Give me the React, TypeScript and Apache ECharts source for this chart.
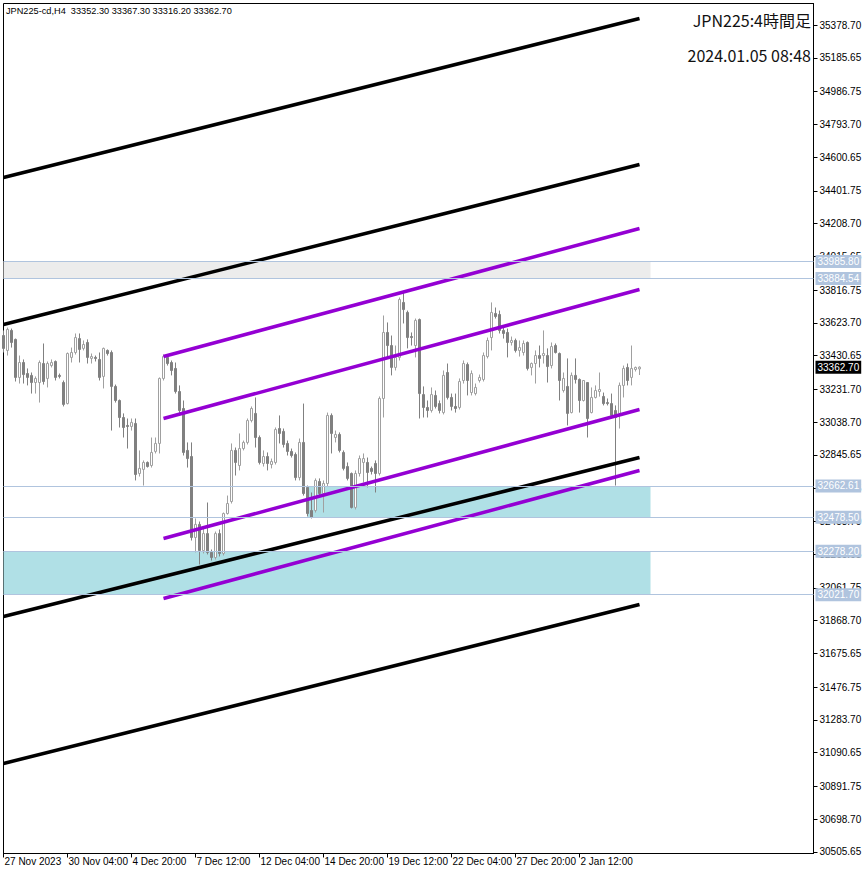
import React, { useEffect, useRef } from "react";
import * as echarts from "echarts";

const symbolText = "JPN225-cd,H4  33352.30 33367.30 33316.20 33362.70";
const titleText = "JPN225:4時間足";
const dateText = "2024.01.05 08:48";

const timeLabels = [
  "27 Nov 2023", "30 Nov 04:00", "4 Dec 20:00", "7 Dec 12:00", "12 Dec 04:00",
  "14 Dec 20:00", "19 Dec 12:00", "22 Dec 04:00", "27 Dec 20:00", "2 Jan 12:00",
];
const timeLabelBars = [0, 16, 32, 48, 64, 80, 96, 112, 128, 144];

const priceTicks = [
  30505.65, 30698.7, 30891.75, 31090.65, 31283.7, 31476.75, 31675.65, 31868.7,
  32061.75, 32260.65, 32453.7, 32646.75, 32845.65, 33038.7, 33231.7, 33430.65,
  33623.7, 33816.75, 34015.65, 34208.7, 34401.75, 34600.65, 34793.7, 34986.75,
  35185.65, 35378.7,
];
const priceMin = 30496.8;
const priceMax = 35505.4;
const barSlots = 202.5;

// [open, close, low, high]
const ohlc: number[][] = [
  [33549, 33473, 33449, 33579], [33461, 33585, 33431, 33596], [33579, 33508, 33478, 33590], [33526, 33302, 33278, 33531],
  [33302, 33390, 33266, 33431], [33390, 33319, 33266, 33408], [33325, 33302, 33255, 33355], [33314, 33272, 33207, 33331],
  [33272, 33296, 33207, 33308], [33272, 33390, 33154, 33402], [33384, 33278, 33260, 33502], [33296, 33384, 33243, 33396],
  [33372, 33390, 33361, 33408], [33396, 33302, 33284, 33402], [33314, 33308, 33296, 33325], [33272, 33143, 33131, 33284],
  [33148, 33443, 33143, 33449], [33420, 33449, 33390, 33478], [33449, 33537, 33437, 33561], [33531, 33467, 33390, 33561],
  [33473, 33496, 33461, 33520], [33508, 33420, 33384, 33526], [33414, 33425, 33384, 33443], [33420, 33414, 33396, 33431],
  [33408, 33302, 33284, 33449], [33308, 33473, 33237, 33478], [33461, 33443, 33431, 33467], [33449, 33249, 32989, 33461],
  [33249, 33166, 33154, 33260], [33166, 33066, 33007, 33172], [33066, 33007, 32948, 33090], [33019, 33013, 32883, 33060],
  [33013, 33037, 32989, 33060], [33031, 32730, 32695, 33060], [32736, 32766, 32718, 32872], [32760, 32801, 32665, 32813],
  [32801, 32777, 32771, 32807], [32783, 32860, 32771, 32948], [32866, 32913, 32854, 32948], [32913, 33296, 32854, 33302],
  [33296, 33425, 33284, 33437], [33420, 33384, 33372, 33431], [33390, 33343, 33314, 33402], [33355, 33219, 33207, 33390],
  [33219, 33107, 33090, 33255], [33119, 32860, 32842, 33166], [32872, 32824, 32771, 32919], [32836, 32359, 32341, 32919],
  [32359, 32436, 32271, 32471], [32436, 32282, 32200, 32453], [32282, 32382, 32265, 32412], [32382, 32271, 32259, 32565],
  [32271, 32241, 32223, 32288], [32241, 32382, 32229, 32394], [32382, 32265, 32247, 32406], [32265, 32500, 32253, 32506],
  [32500, 32559, 32494, 32606], [32571, 32872, 32559, 32913], [32872, 32801, 32724, 32889], [32783, 32883, 32754, 32972],
  [32883, 32919, 32872, 32930], [32919, 33048, 32907, 33060], [33048, 33119, 33037, 33131], [33090, 32948, 32889, 33184],
  [32948, 32801, 32789, 32960], [32795, 32836, 32777, 32872], [32836, 32795, 32754, 32860], [32789, 32807, 32766, 32824],
  [32801, 32995, 32789, 33007], [33001, 32972, 32913, 33078], [32984, 32907, 32889, 33001], [32913, 32866, 32842, 32930],
  [32866, 32842, 32830, 32883], [32848, 32712, 32695, 32860], [32712, 32919, 32695, 32942], [32919, 32618, 32606, 33148],
  [32654, 32500, 32483, 32665], [32518, 32477, 32471, 32624], [32518, 32695, 32506, 32707], [32689, 32618, 32606, 32707],
  [32618, 32677, 32506, 32695], [32677, 33078, 32659, 33095], [33078, 32972, 32854, 33090], [32948, 32966, 32919, 32989],
  [32966, 32872, 32860, 32978], [32860, 32766, 32754, 32872], [32777, 32707, 32695, 32801], [32736, 32536, 32530, 32742],
  [32536, 32736, 32524, 32754], [32736, 32824, 32718, 32842], [32801, 32824, 32683, 32854], [32801, 32742, 32654, 32830],
  [32766, 32748, 32730, 32777], [32795, 32736, 32624, 32813], [32736, 33178, 32724, 33190], [33178, 33567, 33066, 33667],
  [33567, 33490, 33420, 33626], [33490, 33361, 33314, 33549], [33361, 33420, 33343, 33490], [33420, 33761, 33402, 33773],
  [33744, 33702, 33620, 33802], [33685, 33537, 33473, 33696], [33543, 33537, 33490, 33567], [33490, 33638, 33420, 33649],
  [33643, 33207, 33060, 33649], [33201, 33125, 33066, 33249], [33125, 33107, 33066, 33166], [33107, 33201, 33095, 33243],
  [33196, 33131, 33119, 33225], [33148, 33107, 33090, 33166], [33095, 33314, 33084, 33343], [33331, 33184, 33172, 33384],
  [33184, 33131, 33107, 33207], [33131, 33119, 33095, 33207], [33125, 33278, 33113, 33296], [33284, 33384, 33266, 33402],
  [33378, 33284, 33196, 33390], [33213, 33325, 33196, 33343], [33207, 33243, 33196, 33266], [33284, 33302, 33272, 33319],
  [33290, 33431, 33278, 33449], [33425, 33520, 33414, 33537], [33537, 33685, 33461, 33744], [33679, 33661, 33649, 33714],
  [33673, 33579, 33561, 33696], [33579, 33561, 33531, 33602], [33567, 33508, 33420, 33590], [33508, 33520, 33490, 33543],
  [33520, 33461, 33449, 33531], [33461, 33478, 33425, 33520], [33449, 33502, 33431, 33520], [33508, 33355, 33343, 33514],
  [33361, 33384, 33314, 33390], [33384, 33431, 33266, 33461], [33431, 33414, 33361, 33490], [33431, 33443, 33384, 33579],
  [33431, 33366, 33272, 33473], [33372, 33484, 33355, 33508], [33490, 33449, 33443, 33502], [33443, 33284, 33166, 33449],
  [33225, 33296, 33213, 33331], [33249, 33090, 33019, 33414], [33095, 33314, 33090, 33331], [33314, 33290, 33266, 33414],
  [33290, 33166, 33095, 33296], [33166, 33284, 33160, 33284], [33272, 33060, 32948, 33272], [33095, 33184, 33090, 33243],
  [33184, 33225, 33178, 33255], [33219, 33231, 33189, 33331], [33190, 33148, 33137, 33213], [33154, 33148, 33137, 33178],
  [33148, 33078, 33060, 33207], [33107, 33066, 32665, 33137], [33090, 33255, 33001, 33272], [33255, 33355, 33184, 33372],
  [33361, 33284, 33255, 33384], [33302, 33355, 33255, 33490], [33349, 33361, 33337, 33366], [33352.3, 33362.7, 33316.2, 33367.3],
];

// [startBar, startPrice, endBar, endPrice]
const blackLines = [
  [0, 34480.1, 159, 35417.0],
  [0, 33613.9, 159, 34556.7],
  [0, 31893.3, 159, 32830.2],
  [0, 31027.1, 159, 31964.0],
];
const purpleLines = [
  [40, 33425.4, 159, 34179.6],
  [40, 33060.1, 159, 33820.1],
  [40, 32353.0, 159, 33113.1],
  [40, 31999.4, 159, 32753.7],
];
// [top, bottom, startBar]
const grayZones = [[33985.8, 33884.54, 0]];
const cyanZones = [
  [32662.61, 32478.5, 76],
  [32278.2, 32021.7, 0],
];
const zoneEndBar = 161.75;
const levelPrices = [33985.8, 33884.54, 32662.61, 32478.5, 32278.2, 32021.7];
const lastPrice = 33362.7;

const FONT = "Liberation Sans";

export default function App() {
  const ref = useRef<HTMLDivElement>(null);
  useEffect(() => {
    const chart = echarts.init(ref.current!, null, { renderer: "svg" });
    const zoneItem = (z: number[], color: string) => [
      { coord: [z[2], z[0]], itemStyle: { color } },
      { coord: [zoneEndBar, z[1]] },
    ];
    const option: any = {
      animation: false,
      backgroundColor: "#ffffff",
      grid: {
        left: 3.5, top: 3.5, width: 810, height: 850,
        show: true, borderColor: "#000", borderWidth: 1, backgroundColor: "transparent",
      },
      xAxis: {
        type: "value", min: 0, max: barSlots,
        axisLine: { show: true, onZero: false, lineStyle: { color: "#000", width: 1 } },
        axisTick: { show: true, customValues: timeLabelBars, length: 4, lineStyle: { color: "#000" } },
        axisLabel: {
          customValues: timeLabelBars,
          formatter: (v: number) => {
            const k = timeLabelBars.indexOf(Math.round(v));
            return k >= 0 ? timeLabels[k] : "";
          },
          align: "left", margin: 3, padding: [0, 0, 0, 1],
          fontSize: 10, fontFamily: FONT, color: "#000",
        },
        splitLine: { show: false },
      },
      yAxis: {
        type: "value", position: "right", min: priceMin, max: priceMax,
        axisLine: { show: true, onZero: false, lineStyle: { color: "#000", width: 1 } },
        axisTick: { show: true, customValues: priceTicks, length: 4, lineStyle: { color: "#000" } },
        axisLabel: {
          customValues: priceTicks,
          formatter: (v: number) => v.toFixed(2),
          margin: 6, fontSize: 10, fontFamily: FONT, color: "#000",
        },
        splitLine: { show: false },
      },
      graphic: [
        {
          type: "text", x: 6, y: 11, z: 10,
          style: { text: symbolText, fill: "#000", font: `9.2px "${FONT}"`, verticalAlign: "middle" },
        },
        {
          type: "text", x: 811, y: 20, z: 10,
          style: { text: titleText, fill: "#111", font: '16px "Noto Sans CJK JP"', align: "right", verticalAlign: "middle" },
        },
        {
          type: "text", x: 811, y: 55, z: 10,
          style: { text: dateText, fill: "#111", font: '16px "Noto Sans CJK JP"', align: "right", verticalAlign: "middle" },
        },
      ],
      series: [
        {
          type: "line",
          data: [],
          clip: false,
          silent: true,
          markArea: {
            silent: true,
            data: [
              ...grayZones.map((z) => zoneItem(z, "#ececec")),
              ...cyanZones.map((z) => zoneItem(z, "#b0e0e6")),
            ],
          },
          markLine: {
            silent: true,
            symbol: ["none", "none"],
            animation: false,
            lineStyle: { color: "#b0c4de", width: 1, type: "solid" },
            label: {
              position: "end", distance: 2,
              formatter: (p: any) => Number(p.value).toFixed(2),
              color: "#fff", backgroundColor: "#b0c4de", padding: [2, 2, 1, 2],
              fontSize: 10, fontFamily: FONT,
            },
            emphasis: { disabled: true },
            data: [
              ...levelPrices.map((v) => ({ yAxis: v })),
              {
                yAxis: lastPrice,
                lineStyle: { color: "rgba(0,0,0,0)", width: 1 },
                label: { backgroundColor: "#000", color: "#fff" },
              },
            ],
          },
        },
        {
          type: "candlestick",
          z: 2,
          barWidth: 2,
          silent: true,
          data: ohlc.map((d, i) => [i, d[0], d[1], d[2], d[3]]),
          itemStyle: {
            color: "#ffffff", color0: "#808080",
            borderColor: "#a0a0a0", borderColor0: "#808080", borderWidth: 1,
          },
        },
        ...blackLines.map((l) => ({
          type: "line", z: 4, silent: true, symbol: "none",
          data: [[l[0], l[1]], [l[2], l[3]]],
          lineStyle: { color: "#000", width: 3.5 },
        })),
        ...purpleLines.map((l) => ({
          type: "line", z: 4, silent: true, symbol: "none",
          data: [[l[0], l[1]], [l[2], l[3]]],
          lineStyle: { color: "#9400d3", width: 3.5 },
        })),
      ],
    };
    chart.setOption(option);
    return () => chart.dispose();
  }, []);
  return <div ref={ref} style={{ position: "fixed", left: 0, top: 0, width: 866, height: 874 }} />;
}
